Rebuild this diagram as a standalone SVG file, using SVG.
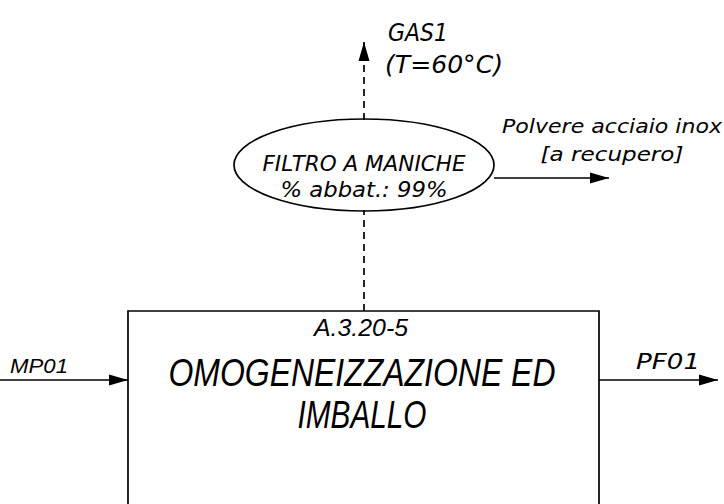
<svg xmlns="http://www.w3.org/2000/svg" width="724" height="504" viewBox="0 0 724 504">
<defs>
<style>
.ln{stroke:#000;stroke-width:1.7;fill:none}
.dash{stroke:#000;stroke-width:1.7;fill:none;stroke-dasharray:7,5}
.t{font-family:"Liberation Sans",Arial,sans-serif;font-style:italic;fill:#000}
.cad{font-family:"DejaVu Sans","Liberation Sans",sans-serif;font-style:italic;fill:#000}
</style>
<marker id="ah" markerWidth="19" markerHeight="12" refX="19" refY="6" orient="auto" markerUnits="userSpaceOnUse">
<path d="M0,0.5 L19,6 L0,11.5 Z" fill="#000"/>
</marker>
</defs>
<rect width="724" height="504" fill="#fff"/>
<g id="connectors">
<line class="dash" x1="364" y1="120" x2="364" y2="42" marker-end="url(#ah)"/>
<line class="dash" x1="364" y1="311" x2="364" y2="210"/>
<line class="ln" x1="494" y1="178" x2="609" y2="178" marker-end="url(#ah)"/>
<line class="ln" x1="0" y1="380" x2="128" y2="380" marker-end="url(#ah)"/>
<line class="ln" x1="599" y1="380" x2="718" y2="380" marker-end="url(#ah)"/>
</g>
<g id="gas1">
<text class="cad" x="388" y="41" font-size="24" textLength="60" lengthAdjust="spacingAndGlyphs">GAS1</text>
<text class="cad" x="385" y="73" font-size="24" textLength="118" lengthAdjust="spacingAndGlyphs">(T=60°C)</text>
</g>
<g id="filtro">
<ellipse class="ln" cx="364" cy="165" rx="130" ry="46" fill="#fff"/>
<text class="cad" x="364" y="171" font-size="21" text-anchor="middle" textLength="203" lengthAdjust="spacingAndGlyphs">FILTRO  A  MANICHE</text>
<text class="cad" x="364" y="197" font-size="21" text-anchor="middle" textLength="167" lengthAdjust="spacingAndGlyphs">% abbat.:  99%</text>
</g>
<g id="polvere">
<text class="cad" x="612" y="133" font-size="20" text-anchor="middle" textLength="220" lengthAdjust="spacingAndGlyphs">Polvere  acciaio  inox</text>
<text class="cad" x="612" y="161" font-size="20" text-anchor="middle" textLength="143" lengthAdjust="spacingAndGlyphs">[a  recupero]</text>
</g>
<g id="mp01">
<text class="t" x="10" y="373" font-size="20" textLength="58" lengthAdjust="spacingAndGlyphs">MP01</text>
</g>
<g id="pf01">
<text class="cad" x="636" y="369" font-size="22" textLength="64" lengthAdjust="spacingAndGlyphs">PF01</text>
</g>
<g id="process">
<polyline class="ln" points="128,506 128,311 599,311 599,506"/>
<text class="t" x="361" y="336" font-size="24" text-anchor="middle" textLength="94" lengthAdjust="spacingAndGlyphs">A.3.20-5</text>
<text class="t" x="362" y="386" font-size="39" text-anchor="middle" textLength="387" lengthAdjust="spacingAndGlyphs">OMOGENEIZZAZIONE ED</text>
<text class="t" x="362" y="428" font-size="39" text-anchor="middle" textLength="129" lengthAdjust="spacingAndGlyphs">IMBALLO</text>
</g>
</svg>
